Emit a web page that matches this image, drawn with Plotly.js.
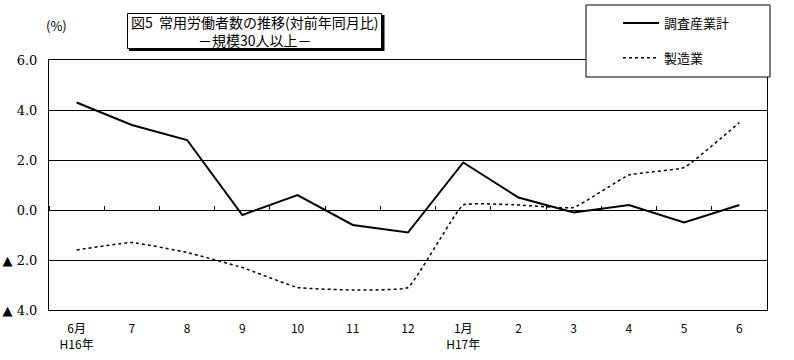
<!DOCTYPE html>
<html>
<head>
<meta charset="utf-8">
<script src="https://cdn.plot.ly/plotly-3.0.1.min.js"></script>
<style>html,body{margin:0;padding:0;background:#fff;}#chart{width:794px;height:360px;}</style>
</head>
<body>
<div id="chart"></div>
<script>
var months = ["6月<br>H16年","7","8","9","10","11","12","1月<br>H17年","2","3","4","5","6"];
var totalIndustry = [4.3, 3.4, 2.8, -0.2, 0.6, -0.6, -0.9, 1.9, 0.5, -0.1, 0.2, -0.5, 0.2];
var manufacturing = [-1.6, -1.3, -1.7, -2.3, -3.1, -3.2, -3.1, 0.2, 0.2, 0.1, 1.4, 1.7, 3.5];
var yTickVals = [-4, -2, 0, 2, 4, 6];
var yTickText = ["▲ 4.0", "▲ 2.0", "0.0", "2.0", "4.0", "6.0"];
var seriesNames = ["調査産業計", "製造業"];
var chartTitle = "図5  常用労働者数の推移(対前年同月比)<br>－規模30人以上－";
var unitLabel = "(%)";

var jp = "'Noto Sans CJK JP', sans-serif";
function px(v) { return (v - 49) / 718; }
function py(v) { return (310 - v) / 250; }

var traces = [
  {x: months, y: totalIndustry, name: seriesNames[0], type: "scatter", mode: "lines",
   line: {color: "#000", width: 2}, legendgroup: "a", hoverinfo: "skip"},
  {x: months, y: manufacturing, name: seriesNames[1], type: "scatter", mode: "lines",
   line: {color: "#000", width: 1.5, dash: "dot", shape: "spline", smoothing: 0.3}, legendgroup: "b", hoverinfo: "skip"},
  {x: months, y: totalIndustry, xaxis: "x2", yaxis: "y", type: "scatter", mode: "lines",
   opacity: 0, showlegend: false, hoverinfo: "skip", line: {width: 0}}
];

var layout = {
  width: 794, height: 360,
  margin: {l: 49, r: 27, t: 60, b: 50, pad: 0, autoexpand: false},
  paper_bgcolor: "#fff", plot_bgcolor: "#fff",
  font: {family: jp, color: "#000", size: 12},
  showlegend: true,
  legend: {xref: "container", yref: "container", x: 618/794, y: 1 - 8/360,
           xanchor: "left", yanchor: "top", bgcolor: "rgba(0,0,0,0)",
           borderwidth: 0, font: {family: jp, size: 13, color: "#000"},
           traceorder: "grouped", tracegroupgap: 15, itemwidth: 36},
  xaxis: {type: "category", categoryarray: months, range: [-0.5, 12.5], automargin: false,
          showline: true, mirror: true, linecolor: "#000", linewidth: 1,
          showgrid: false, ticks: "", ticklabelstandoff: 8,
          tickfont: {family: jp, size: 12, color: "#000"}, fixedrange: true},
  xaxis2: {type: "category", categoryarray: months, range: [-0.5, 12.5], automargin: false,
           overlaying: "x", anchor: "free", position: 0.4, side: "top",
           showline: false, showgrid: false, showticklabels: false,
           ticks: "outside", tickson: "boundaries", ticklen: 4, tickcolor: "#000", tickwidth: 1},
  yaxis: {range: [-4, 6], tickmode: "array", tickvals: yTickVals, ticktext: yTickText, automargin: false,
          showline: true, mirror: true, linecolor: "#000", linewidth: 1,
          showgrid: true, gridcolor: "#000", gridwidth: 1,
          zeroline: true, zerolinecolor: "#000", zerolinewidth: 1,
          ticks: "", ticklabelstandoff: 8,
          tickfont: {family: "'DejaVu Serif', serif", size: 13, color: "#000"}, fixedrange: true},
  shapes: [
    {type: "rect", xref: "paper", yref: "paper", layer: "above",
     x0: px(586), x1: px(770), y0: py(77), y1: py(5),
     fillcolor: "#fff", line: {color: "#000", width: 1}},
    {type: "rect", xref: "paper", yref: "paper", layer: "above",
     x0: px(129), x1: px(384.5), y0: py(51), y1: py(15),
     fillcolor: "#000", line: {width: 0}},
    {type: "rect", xref: "paper", yref: "paper", layer: "above",
     x0: px(127.5), x1: px(381.5), y0: py(48.5), y1: py(13.5),
     fillcolor: "#fff", line: {color: "#000", width: 1}}
  ],
  annotations: [
    {xref: "paper", yref: "paper", x: px(254.5), y: py(31),
     xanchor: "center", yanchor: "middle",
     text: chartTitle, showarrow: false, align: "center",
     font: {family: jp, size: 14, color: "#000"}},
    {xref: "paper", yref: "paper", x: px(56), y: py(25),
     xanchor: "center", yanchor: "middle",
     text: unitLabel, showarrow: false, font: {family: jp, size: 13, color: "#000"}}
  ]
};

Plotly.newPlot("chart", traces, layout, {staticPlot: true, displayModeBar: false});
</script>
</body>
</html>
